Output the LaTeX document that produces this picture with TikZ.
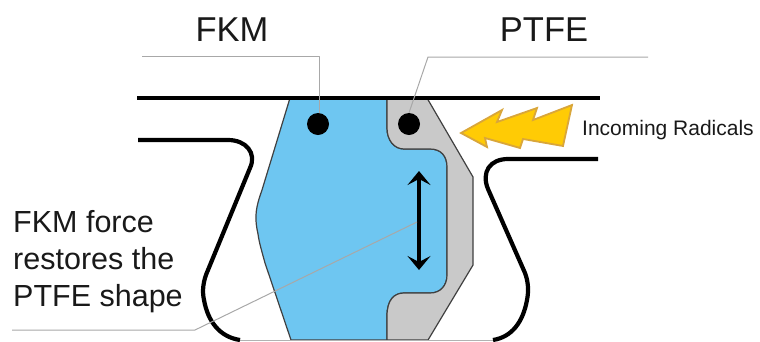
\documentclass[tikz,border=0pt]{standalone}
\usepackage{fontspec}
\setmainfont{Liberation Sans}
\usetikzlibrary{arrows.meta}
\definecolor{fkmblue}{HTML}{6EC6F1}
\definecolor{ptfegrey}{HTML}{C9C9C9}
\definecolor{boltfill}{HTML}{FFCB05}
\definecolor{boltedge}{HTML}{D9A63A}
\definecolor{leader}{HTML}{A8A8A8}
\tikzset{
  px/.style={x=1pt,y=-1pt},
  groove/.style={draw=black,line width=4.2pt,line cap=butt,line join=round},
  seal/.style={draw=black!75,line width=1.2pt,line join=round},
  leaderline/.style={draw=leader,line width=1pt,line join=round},
  dotmark/.style={circle,fill=black,inner sep=0pt,minimum size=22pt},
  chevron/.tip={Stealth[length=14pt,width=23pt,inset=6pt]},
  biglabel/.style={font=\fontsize{34.5}{37}\selectfont,inner sep=0pt,text=black!90},
  sidelabel/.style={font=\fontsize{30.5}{37}\selectfont,inner sep=0pt,align=left,text=black!90},
  smalllabel/.style={font=\fontsize{21}{26}\selectfont,inner sep=0pt,text=black!90}
}
\begin{document}
\begin{tikzpicture}[px]
\useasboundingbox (0,0) rectangle (760,341);
% seal bodies
\path[seal,fill=fkmblue] (290,98) -- (262,190)
  .. controls (256,207) and (254,216) .. (258,234)
  .. controls (259,242) and (262,252) .. (265,263)
  -- (291,340) -- (387,340) -- (387,316)
  .. controls (387,300) and (394,293) .. (404,293)
  -- (430,293) .. controls (441,293) and (447,285) .. (447,275)
  -- (447,167) .. controls (447,156) and (441,149) .. (430,149)
  -- (404,149) .. controls (394,149) and (387,140) .. (387,128)
  -- (387,98) -- cycle;
\path[seal,fill=ptfegrey] (387,98) -- (427,98) -- (473,177) -- (473,265) -- (428,340)
  -- (387,340) -- (387,316)
  .. controls (387,300) and (394,293) .. (404,293)
  -- (430,293) .. controls (441,293) and (447,285) .. (447,275)
  -- (447,167) .. controls (447,156) and (441,149) .. (430,149)
  -- (404,149) .. controls (394,149) and (387,140) .. (387,128) -- cycle;
% bottom edge
\draw[draw=black!30,line width=1pt] (237,340) -- (497,340);
% groove outline
\draw[groove] (137,97.7) -- (600,97.7);
\draw[groove] (138,140) -- (228,140)
  .. controls (246,140) and (257,153) .. (250,168)
  -- (208,270)
  .. controls (203,281) and (202,291) .. (204,300)
  .. controls (208,322) and (220,337) .. (240,340);
\draw[groove] (598,159) -- (508,159)
  .. controls (490,159) and (481,172) .. (488,189)
  -- (525,273)
  .. controls (528,281) and (529,290) .. (527,300)
  .. controls (523,322) and (512,337) .. (493,340);
% bolt
\path[draw=boltedge,fill=boltfill,line width=1.8pt,line join=miter]
  (461,133) -- (502,110) -- (497,122) -- (537,108) -- (533,120) -- (572,105)
  -- (563,146) -- (523,139) -- (520,148) -- (485,138) -- (487,147) -- cycle;
% dots
\node[dotmark] (fkmdot) at (318,124) {};
\node[dotmark] (ptfedot) at (409,124) {};
% arrow
\coordinate (arrowtop) at (419,171);
\coordinate (arrowbot) at (419,270);
\draw[line width=4.4pt,{chevron}-{chevron}] (arrowtop) -- (arrowbot);
% leaders
\coordinate (fkmstart) at (142,56);
\coordinate (fkmbend) at (319,56);
\coordinate (ptfestart) at (648,57);
\coordinate (ptfebend) at (428,57);
\coordinate (forcestart) at (12,330);
\coordinate (forcebend) at (195,330);
\coordinate (forceend) at (417,222);
\draw[leaderline] (fkmstart) -- (fkmbend) -- (fkmdot.north -| fkmbend);
\draw[leaderline] (ptfestart) -- (ptfebend) -- (ptfedot.north);
\draw[leaderline] (forcestart) -- (forcebend) -- (forceend);
% labels
\node[biglabel] (fkm) at (232,30) {FKM};
\node[biglabel] (ptfe) at (544,30) {PTFE};
\node[smalllabel,anchor=west] (radicals) at (582,130) {Incoming Radicals};
\node[sidelabel,anchor=west] (force) at (13,261.5) {FKM force\\restores the\\PTFE shape};
\end{tikzpicture}
\end{document}
